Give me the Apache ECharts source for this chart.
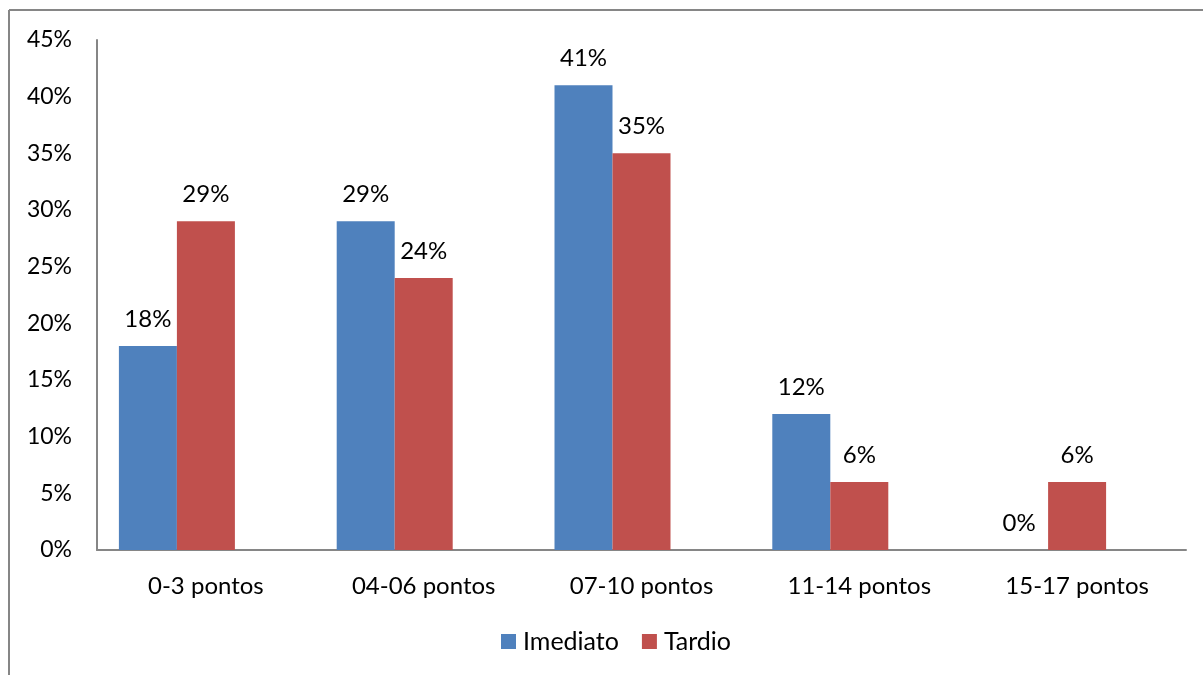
<!DOCTYPE html>
<html>
<head>
<meta charset="utf-8">
<script src="https://cdn.jsdelivr.net/npm/echarts@6/dist/echarts.min.js"></script>
<style>
  html, body { margin: 0; padding: 0; background: #fff; }
  #chart { width: 1203px; height: 675px; }
</style>
</head>
<body>
<div id="chart"></div>
<script>
// data
const categories = ['0-3 pontos', '04-06 pontos', '07-10 pontos', '11-14 pontos', '15-17 pontos'];
const imediato = [18, 29, 41, 12, 0];
const tardio = [29, 24, 35, 6, 6];
// the original workbook has an empty third series that reserves a slot in each group
const vazio = [null, null, null, null, null];
const yTicks = [0, 5, 10, 15, 20, 25, 30, 35, 40, 45];

const chart = echarts.init(document.getElementById('chart'));
const font = 'Lato, "Open Sans", sans-serif';

const pctLabel = {
  show: true,
  position: 'top',
  distance: 15,
  fontSize: 24,
  color: '#000',
  fontFamily: font,
  formatter: p => p.value + '%'
};

const option = {
  backgroundColor: '#fff',
  animation: false,
  textStyle: { fontFamily: font },
  // frame around the chart (only top and left edges visible in the picture)
  graphic: [
    { type: 'line', shape: { x1: 9, y1: 10, x2: 1203, y2: 10 }, style: { stroke: '#868686', lineWidth: 2 } },
    { type: 'line', shape: { x1: 9, y1: 10, x2: 9, y2: 675 }, style: { stroke: '#868686', lineWidth: 2 } }
  ],
  grid: {
    left: 97,
    right: 17,
    top: 40,
    bottom: 125
  },
  legend: {
    bottom: 16,
    left: 496,
    itemWidth: 15,
    itemHeight: 15,
    itemGap: 23,
    icon: 'rect',
    textStyle: { fontSize: 25, color: '#000', fontFamily: font, padding: [0, 0, 0, 2] },
    data: ['Imediato', 'Tardio']
  },
  xAxis: {
    type: 'category',
    data: categories,
    axisLine: { lineStyle: { color: '#868686', width: 2 } },
    axisTick: { show: false },
    axisLabel: { fontSize: 24, color: '#000', margin: 24, fontFamily: font }
  },
  yAxis: {
    type: 'value',
    min: yTicks[0],
    max: yTicks[yTicks.length - 1],
    interval: 5,
    axisLine: { show: true, lineStyle: { color: '#868686', width: 2 } },
    axisTick: { show: false },
    splitLine: { show: false },
    axisLabel: {
      fontSize: 23,
      color: '#000',
      margin: 25,
      fontFamily: font,
      formatter: v => v + '%'
    }
  },
  series: [
    {
      name: 'Imediato',
      type: 'bar',
      data: imediato,
      barWidth: 58,
      barGap: '0%',
      itemStyle: { color: '#4F81BD' },
      label: pctLabel
    },
    {
      name: 'Tardio',
      type: 'bar',
      data: tardio,
      barWidth: 58,
      barGap: '0%',
      itemStyle: { color: '#C0504D' },
      label: pctLabel
    },
    {
      name: 'vazio',
      type: 'bar',
      data: vazio,
      barWidth: 58,
      barGap: '0%',
      silent: true
    }
  ]
};

chart.setOption(option);
</script>
</body>
</html>
